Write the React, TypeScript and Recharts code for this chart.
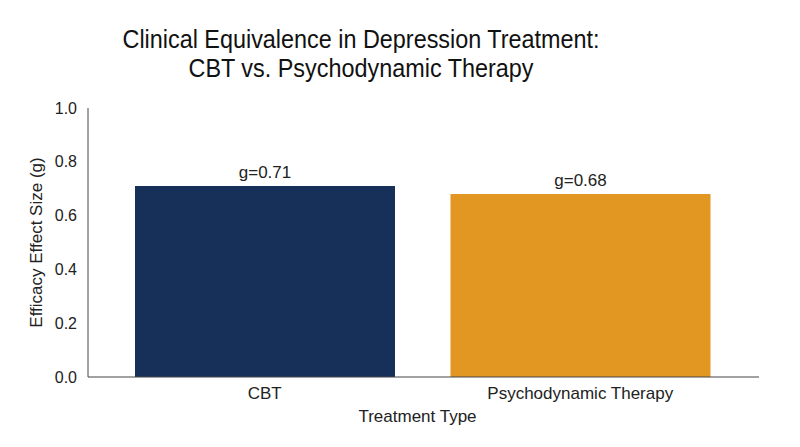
import { Bar, BarChart, Cell, Label, LabelList, XAxis, YAxis } from 'recharts';

const treatments = ['CBT', 'Psychodynamic Therapy'];
const effectSizes = [0.71, 0.68];
const yTicks = [0, 0.2, 0.4, 0.6, 0.8, 1.0];

const BAR_COLORS = ['#16305a', '#e29722'];
const FONT = '"Liberation Sans", Arial, sans-serif';

const data = treatments.map((name, i) => ({ name, g: effectSizes[i] }));

export default function App() {
  return (
    <div style={{ position: 'relative', width: 800, height: 447, margin: -8, background: '#fff', fontFamily: FONT }}>
      <svg width={800} height={110} style={{ position: 'absolute', left: 0, top: 0, pointerEvents: 'none' }}>
        <text x={361} y={48} textAnchor="middle" fontSize={25} fill="#111" textLength={477} lengthAdjust="spacingAndGlyphs">
          Clinical Equivalence in Depression Treatment:
        </text>
        <text x={361} y={77} textAnchor="middle" fontSize={25} fill="#111" textLength={345} lengthAdjust="spacingAndGlyphs">
          CBT vs. Psychodynamic Therapy
        </text>
      </svg>
      <BarChart
        width={800}
        height={447}
        data={data}
        margin={{ top: 108, right: 41, bottom: 0, left: 0 }}
        style={{ fontFamily: FONT }}
      >
        <XAxis
          dataKey="name"
          height={70}
          padding={{ left: 19, right: 21 }}
          tickLine={false}
          tickMargin={4}
          axisLine={{ stroke: '#444', strokeWidth: 1 }}
          tick={{ fontSize: 17, fill: '#222' }}
        >
          <Label value="Treatment Type" position="insideBottom" offset={25} dx={-6} style={{ fontSize: 17, fill: '#222' }} />
        </XAxis>
        <YAxis
          width={88}
          domain={[0, 1]}
          ticks={yTicks}
          tickFormatter={(v: number) => v.toFixed(1)}
          tickLine={false}
          tickMargin={5}
          axisLine={{ stroke: '#444', strokeWidth: 1 }}
          tick={{ fontSize: 16, fill: '#222' }}
        >
          <Label
            value="Efficacy Effect Size (g)"
            angle={-90}
            position="insideLeft"
            offset={36}
            style={{ fontSize: 17, fill: '#222', textAnchor: 'middle' }}
          />
        </YAxis>
        <Bar dataKey="g" barSize={260} isAnimationActive={false}>
          {data.map((d, i) => (
            <Cell key={d.name} fill={BAR_COLORS[i]} />
          ))}
          <LabelList
            dataKey="g"
            position="top"
            offset={8}
            formatter={(v: number) => `g=${Number(v).toFixed(2)}`}
            style={{ fontSize: 17, fill: '#222' }}
          />
        </Bar>
      </BarChart>
    </div>
  );
}
